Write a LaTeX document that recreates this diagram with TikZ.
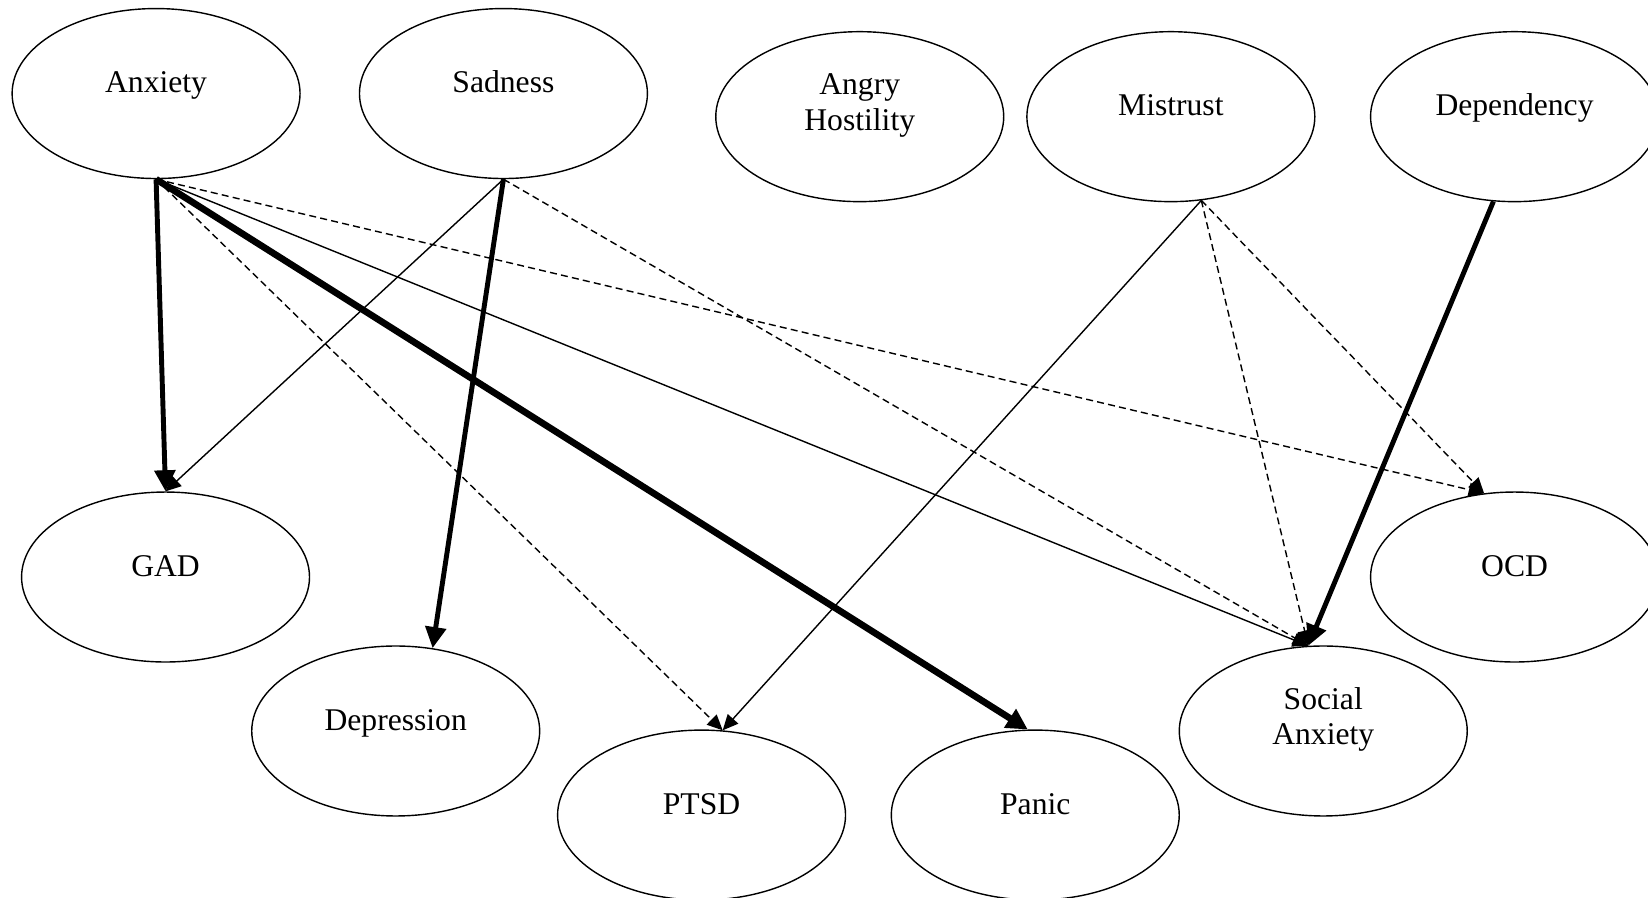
\documentclass[tikz,border=0pt]{standalone}
\usepackage{fontspec}
\setmainfont{Liberation Serif}
\usetikzlibrary{shapes.geometric,arrows.meta}
\begin{document}
\begin{tikzpicture}[x=0.01051cm, y=-0.01051cm, font=\fontsize{9}{10.2}\selectfont, line join=round,
	ell/.style={draw, ellipse, line width=0.4pt, minimum width=2.88cm, minimum height=1.70cm, inner sep=0pt},
	lbl/.style={text height=0.7em, text depth=0.2em, yshift=2.7pt, inner sep=0pt},
	lbltwo/.style={align=center, yshift=3.3pt, inner sep=0pt},
	solidarr/.style={line width=0.4pt, -{Triangle[length=4.4pt,width=4pt]}},
	dasharr/.style={solidarr, dash pattern=on 2pt off 1.2pt},
	boldarr/.style={line width=1.4pt, -{Triangle[length=6pt,width=5.8pt]}},
	heavyarr/.style={line width=1.9pt, -{Triangle[length=6pt,width=6pt]}}]
	\clip (0,0) rectangle (1568,854.4);
	% traits (top row) and disorders
	\foreach \n/\x/\y/\s/\t in {anx/148.5/89/lbl/Anxiety, sad/479/89/lbl/Sadness,
		ang/818/111/lbltwo/{Angry\\Hostility}, mis/1114/111/lbl/Mistrust, dpd/1441/111/lbl/Dependency,
		gad/157.5/549/lbl/GAD, ocd/1441/549/lbl/OCD, dep/376.5/695.5/lbl/Depression,
		soc/1259/695.5/lbltwo/{Social\\Anxiety}, ptsd/667.5/775.5/lbl/PTSD, pan/985/775.5/lbl/Panic}
	\node[ell, label={[\s]center:\t}] (\n) at (\x,\y) {};
	% paths
	\foreach \a/\b/\s in {anx.south/ptsd.76/dasharr, anx.south/ocd.110/dasharr,
		sad.south/soc.100/dasharr, mis.290/soc.100/dasharr, mis.290/ocd.110/dasharr,
		sad.south/gad.north/solidarr, anx.south/soc.100/solidarr, mis.290/ptsd.76/solidarr,
		anx.south/gad.north/boldarr, sad.south/dep.66/boldarr, dpd.256/soc.100/boldarr,
		anx.south/pan.95/heavyarr}
	\draw[\s] (\a) -- (\b);
\end{tikzpicture}
\end{document}
